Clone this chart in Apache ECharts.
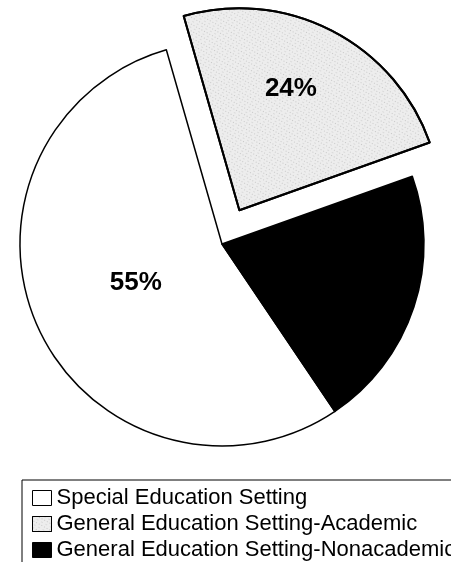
<!DOCTYPE html>
<html>
<head>
<meta charset="utf-8">
<script src="https://cdn.jsdelivr.net/npm/echarts@6/dist/echarts.min.js"></script>
<style>
  html, body { margin: 0; padding: 0; background: #fff; }
  #main { width: 451px; height: 562px; }
</style>
</head>
<body>
<div id="main"></div>
<script>
// setting shares (percent)
var settings = ['Special Education Setting', 'General Education Setting-Academic', 'General Education Setting-Nonacademic'];
var shares = [55, 24, 21];
var fills = ['#ffffff', '#ededed', '#000000'];

var chart = echarts.init(document.getElementById('main'));

var speckle = {
  symbol: 'circle',
  symbolSize: 0.9,
  color: 'rgba(70,70,70,0.45)',
  dashArrayX: [[1, 2], [2, 3]],
  dashArrayY: [1, 2],
  rotation: 0.5
};

var pieData = settings.map(function (name, i) {
  var item = {
    name: name,
    value: shares[i],
    itemStyle: { color: fills[i] }
  };
  if (i == 1) {
    item.selected = true;
    item.itemStyle.borderWidth = 2;
    item.itemStyle.decal = speckle;
  }
  if (i == 2) {
    item.label = { show: false };
  }
  return item;
});

var option = {
  animation: false,
  backgroundColor: '#fff',
  legend: {
    orient: 'vertical',
    icon: 'rect',
    left: 22,
    top: 480,
    height: 150,
    padding: [7, 200, 30, 10],
    borderColor: '#000',
    borderWidth: 1,
    itemWidth: 19,
    itemHeight: 15,
    itemGap: 4,
    selectedMode: false,
    data: settings,
    itemStyle: { borderColor: '#000', borderWidth: 1 },
    textStyle: {
      fontFamily: 'Liberation Sans',
      fontSize: 22,
      color: '#000'
    }
  },
  series: [{
    type: 'pie',
    center: [222, 244],
    radius: 202,
    startAngle: -56,
    selectedMode: 'single',
    selectedOffset: 38,
    avoidLabelOverlap: false,
    itemStyle: {
      borderColor: '#000',
      borderWidth: 1.5
    },
    label: {
      show: true,
      position: 'inside',
      formatter: '{c}%',
      fontFamily: 'Liberation Sans',
      fontWeight: 'bold',
      fontSize: 26,
      color: '#000'
    },
    // move labels to where the original puts them
    labelLayout: function (params) {
      if (params.dataIndex == 1) return { dx: 4, dy: -29 };
      if (params.dataIndex == 0) return { dx: 8, dy: -5 };
      return {};
    },
    labelLine: { show: false },
    emphasis: { disabled: true },
    select: {
      itemStyle: { borderColor: '#000', borderWidth: 2 }
    },
    data: pieData
  }]
};

chart.setOption(option);
</script>
</body>
</html>
